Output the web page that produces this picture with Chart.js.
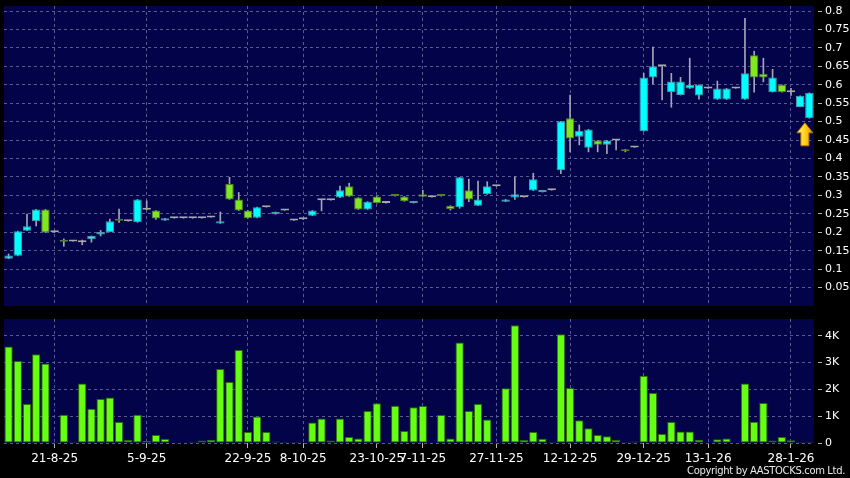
<!DOCTYPE html>
<html lang="en">
<head>
<meta charset="UTF-8">
<title>Chart</title>
<style>
  *{margin:0;padding:0;}
  body{background:#000;width:850px;height:478px;overflow:hidden;position:relative;font-family:'DejaVu Sans',sans-serif;}
  #priceBox{position:absolute;left:0;top:0;width:850px;height:310px;}
  #volBox{position:absolute;left:0;top:310px;width:850px;height:168px;}
  .copy{position:absolute;right:5px;top:465px;line-height:12px;color:#e8e8e8;font-size:10px;letter-spacing:-0.35px;white-space:nowrap;}
</style>
</head>
<body>
<div id="priceBox"><canvas id="priceChart"></canvas></div>
<div id="volBox"><canvas id="volChart"></canvas></div>
<div class="copy">Copyright by AASTOCKS.com Ltd.</div>
<script src="https://cdn.jsdelivr.net/npm/chart.js"></script>
<script>
// daily candles, one per trading slot
const opens  = [.128,.136,.204,.230,.262,.200,.180,.175,.173,.181, .194,.201,.236,.230,.227,.261,.259,.232,.238,.238,
                .238,.238,.240,.224,.331,.289,.259,.239,.268,.249, .259,.232,.235,.245,.287,.287,.294,.325,.294,.262,
                .297,.279,.303,.297,.279,.303,.295,.303,.272,.268, .314,.272,.303,.325,.283,.294,.295,.313,.309,.314,
                .368,.509,.459,.429,.449,.437,.449,.425,.430,.474, .620,.650,.580,.572,.590,.571,.590,.560,.560,.590,
                .560,.680,.630,.580,.600,.580,.540,.509];
const highs  = [.141,.203,.249,.262,.262,.200,.182,.175,.179,.190, .205,.236,.263,.230,.289,.285,.259,.238,.238,.238,
                .238,.238,.240,.255,.349,.308,.259,.268,.268,.255, .259,.232,.235,.259,.287,.287,.325,.333,.294,.283,
                .297,.279,.303,.297,.284,.314,.295,.303,.272,.349, .344,.339,.337,.325,.289,.350,.295,.360,.314,.314,
                .501,.572,.491,.479,.449,.449,.449,.425,.430,.631, .702,.650,.631,.620,.672,.600,.590,.610,.590,.590,
                .780,.691,.672,.642,.600,.590,.570,.578];
const lows   = [.128,.136,.204,.217,.199,.200,.162,.175,.166,.173, .190,.201,.227,.230,.227,.261,.235,.232,.238,.238,
                .238,.238,.240,.224,.289,.259,.238,.239,.268,.249, .259,.232,.235,.245,.258,.287,.294,.297,.262,.262,
                .279,.279,.298,.284,.279,.296,.295,.298,.260,.265, .283,.272,.303,.325,.283,.289,.295,.313,.309,.314,
                .359,.418,.437,.418,.418,.413,.423,.418,.430,.474, .602,.559,.539,.572,.590,.561,.590,.560,.560,.590,
                .560,.580,.608,.580,.580,.571,.540,.509];
const closes = [.137,.203,.216,.262,.199,.200,.174,.175,.173,.190, .201,.230,.231,.230,.289,.261,.237,.238,.238,.238,
                .238,.238,.240,.230,.289,.259,.238,.268,.268,.255, .259,.232,.235,.259,.287,.287,.314,.297,.262,.283,
                .279,.279,.298,.284,.284,.296,.295,.298,.263,.349, .289,.289,.325,.325,.289,.303,.295,.344,.314,.314,
                .501,.454,.475,.479,.437,.449,.449,.420,.430,.620, .650,.650,.609,.609,.600,.600,.590,.590,.590,.590,
                .631,.620,.620,.620,.580,.580,.570,.578];
const volumes = [3600,3060,1450,3310,2960,40,1050,50,2220,1280, 1640,1700,780,110,1050,70,300,150,0,30,
                 50,90,120,2760,2270,3470,410,990,410,60, 40,40,0,760,910,90,910,220,170,1190,
                 1480,0,1390,450,1330,1380,0,1040,170,3750, 1190,1450,880,0,2040,4390,110,410,160,40,
                 4050,2050,850,550,300,250,110,40,60,2510, 1860,340,780,430,430,120,0,140,170,0,
                 2220,790,1490,90,220,100,50,50];

const tickDates = ['21-8-25','5-9-25','22-9-25','8-10-25','23-10-25','7-11-25','27-11-25','12-12-25','29-12-25','13-1-26','28-1-26'];
const tickSlots = [5,15,26,32,40,45,53,61,69,76,85];
const priceTicks = [0.05,0.1,0.15,0.2,0.25,0.3,0.35,0.4,0.45,0.5,0.55,0.6,0.65,0.7,0.75,0.8];
const volTicks = [0,1000,2000,3000,4000];

const labels = opens.map((o, i) => {
  const k = tickSlots.indexOf(i);
  return k >= 0 ? tickDates[k] : '';
});

const GRID = '#5a5a92';
const PLOT = '#030349';
const UP = '#00ffff', DOWN = '#80e820', FLAT = '#a8a8a8';

Chart.defaults.font.family = "'DejaVu Sans', sans-serif";
Chart.defaults.animation = false;

function bodyColor(i){
  return closes[i] > opens[i] ? UP : (closes[i] < opens[i] ? DOWN : FLAT);
}
function edgeColor(i){
  return closes[i] > opens[i] ? '#4f9aa6' : (closes[i] < opens[i] ? '#567f2a' : FLAT);
}

const plotBg = {
  id: 'plotBg',
  beforeDraw(chart){
    const a = chart.chartArea, ctx = chart.ctx;
    ctx.save();
    ctx.fillStyle = PLOT;
    ctx.fillRect(a.left, a.top, a.right - a.left, a.bottom - a.top);
    ctx.restore();
  }
};

// yellow marker under the last candle
const arrowMark = {
  id: 'arrowMark',
  afterDatasetsDraw(chart){
    const i = lows.length - 1;
    const x = chart.scales.x.getPixelForValue(i) - 4.5;
    const y = chart.scales.y.getPixelForValue(lows[i]) + 4.5;
    const ctx = chart.ctx;
    ctx.save();
    const g = ctx.createLinearGradient(x - 8, 0, x + 8, 0);
    g.addColorStop(0, '#fff27a');
    g.addColorStop(0.5, '#ffd21c');
    g.addColorStop(1, '#e59400');
    ctx.beginPath();
    ctx.moveTo(x, y);
    ctx.lineTo(x + 8, y + 10);
    ctx.lineTo(x + 4, y + 10);
    ctx.lineTo(x + 4, y + 23);
    ctx.lineTo(x - 4, y + 23);
    ctx.lineTo(x - 4, y + 10);
    ctx.lineTo(x - 8, y + 10);
    ctx.closePath();
    ctx.fillStyle = g;
    ctx.fill();
    ctx.strokeStyle = '#b87400';
    ctx.lineWidth = 1;
    ctx.stroke();
    ctx.restore();
  }
};

const priceChart = new Chart(document.getElementById('priceChart'), {
  type: 'bar',
  data: {
    labels: labels,
    datasets: [
      {
        label: 'body',
        data: opens.map((o, i) => [o, closes[i]]),
        backgroundColor: ctx => bodyColor(ctx.dataIndex),
        borderColor: ctx => edgeColor(ctx.dataIndex),
        borderWidth: 1,
        borderSkipped: false,
        minBarLength: 2,
        grouped: false,
        categoryPercentage: 1,
        barPercentage: 0.92,
        order: 0
      },
      {
        label: 'wick',
        data: lows.map((l, i) => [l, highs[i]]),
        backgroundColor: '#a4a4ba',
        barThickness: 1,
        grouped: false,
        order: 1
      }
    ]
  },
  options: {
    responsive: true,
    maintainAspectRatio: false,
    layout: { padding: { left: 4, top: 6, right: 0, bottom: 4 } },
    plugins: { legend: { display: false }, tooltip: { enabled: false } },
    scales: {
      x: {
        type: 'category',
        offset: true,
        grid: { offset: false, color: ctx => labels[ctx.index] ? GRID : 'transparent', drawTicks: false },
        border: { display: false, dash: [3, 3] },
        ticks: { display: false, autoSkip: false, maxRotation: 0, minRotation: 0 },
        afterFit: s => { s.height = 0; }
      },
      y: {
        position: 'right',
        min: 0,
        max: 0.8136,
        afterBuildTicks: s => { s.ticks = priceTicks.map(v => ({ value: v })); },
        afterFit: s => { s.width = 36; s.paddingTop = 0; s.paddingBottom = 0; },
        grid: { color: GRID, tickColor: '#b4b4b4', tickLength: 8, tickBorderDash: [4, 4], tickBorderDashOffset: 4 },
        border: { display: false, dash: [3, 3] },
        ticks: { color: '#ffffff', font: { size: 11 }, padding: 3, callback: v => String(v) }
      }
    }
  },
  plugins: [plotBg, arrowMark]
});

const volChart = new Chart(document.getElementById('volChart'), {
  type: 'bar',
  data: {
    labels: labels,
    datasets: [{
      label: 'volume',
      data: volumes,
      backgroundColor: '#66ff11',
      borderColor: '#2f6a00',
      borderWidth: 1,
      borderSkipped: false,
      categoryPercentage: 1,
      barPercentage: 0.9
    }]
  },
  options: {
    responsive: true,
    maintainAspectRatio: false,
    layout: { padding: { left: 4, top: 9, right: 0, bottom: 0 } },
    plugins: { legend: { display: false }, tooltip: { enabled: false } },
    scales: {
      x: {
        type: 'category',
        offset: true,
        grid: {
          offset: false,
          color: ctx => labels[ctx.index] ? GRID : 'transparent',
          tickColor: ctx => labels[ctx.index] ? '#b4b4b4' : 'transparent',
          tickLength: 5
        },
        border: { display: false, dash: [3, 3] },
        ticks: { color: '#ffffff', font: { size: 12 }, padding: 4, autoSkip: false, maxRotation: 0, minRotation: 0 },
        afterFit: s => { s.height = 35; s.paddingLeft = 0; s.paddingRight = 0; }
      },
      y: {
        position: 'right',
        min: 0,
        max: 4622,
        afterBuildTicks: s => { s.ticks = volTicks.map(v => ({ value: v })); },
        afterFit: s => { s.width = 36; s.paddingTop = 0; s.paddingBottom = 0; },
        grid: { color: GRID, tickColor: '#b4b4b4', tickLength: 8, tickBorderDash: [4, 4], tickBorderDashOffset: 4 },
        border: { display: false, dash: [3, 3] },
        ticks: { color: '#ffffff', font: { size: 11 }, padding: 3, callback: v => v ? (v / 1000) + 'K' : '0' }
      }
    }
  },
  plugins: [plotBg]
});
</script>
</body>
</html>
